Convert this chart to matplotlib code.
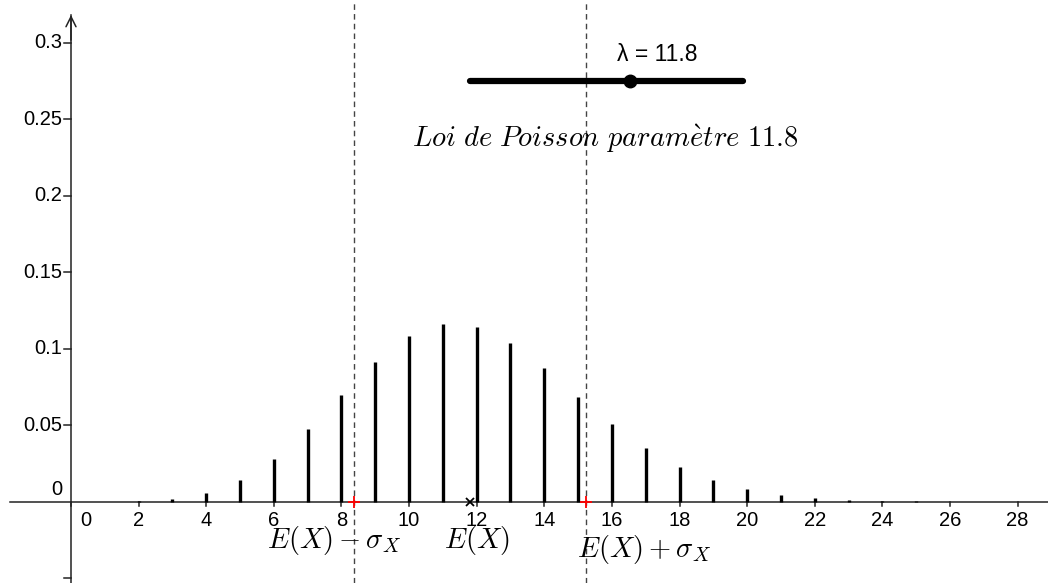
import matplotlib
matplotlib.use("Agg")
import matplotlib.pyplot as plt

plt.rcParams['font.family'] = ['Liberation Sans', 'DejaVu Sans']
plt.rcParams['mathtext.fontset'] = 'cm'

lam = 11.8
k = list(range(0, 29))
p = [0.0000075, 0.0000886, 0.000523, 0.002055, 0.006063, 0.01431, 0.02814,
     0.04743, 0.06996, 0.09173, 0.10824, 0.11611, 0.11418, 0.10364, 0.08735,
     0.06872, 0.05068, 0.03518, 0.02306, 0.01432, 0.00845, 0.00475, 0.00255,
     0.00131, 0.00064, 0.00030, 0.00014, 0.00006, 0.00002]
mean = 11.8
sigma = 3.435
x_ticks = [0, 2, 4, 6, 8, 10, 12, 14, 16, 18, 20, 22, 24, 26, 28]
y_ticks = [0.05, 0.1, 0.15, 0.2, 0.25, 0.3]
y_labels = ['0.05', '0.1', '0.15', '0.2', '0.25', '0.3']

fig = plt.figure(figsize=(10.48, 5.83), dpi=100)
ax = fig.add_axes([0, 0, 1, 1])
ax.set_xlim(-2.1, 28.9)
ax.set_ylim(-0.053, 0.328)
ax.axis('off')

# axes lines
ax.axhline(0, xmin=0.01, color='#222222', lw=1.1, zorder=2)
ax.axvline(0, ymax=(0.318 + 0.053) / 0.381, color='#222222', lw=1.1, zorder=2)
ax.annotate('', xy=(0, 0.320), xytext=(0, 0.30),
            arrowprops=dict(arrowstyle='->', color='#222222', lw=1.1,
                            mutation_scale=18))

# ticks and labels
for t in x_ticks:
    ax.plot([t, t], [0, -0.003], color='#222222', lw=1.1)
    dx = 0.45 if t == 0 else 0
    ax.text(t + dx, -0.012, str(t), ha='center', va='center', fontsize=14.5)
for t, lab in zip(y_ticks, y_labels):
    ax.plot([0, -0.2], [t, t], color='#222222', lw=1.1)
    ax.text(-0.27, t, lab, ha='right', va='center', fontsize=14.5)
ax.plot([0, -0.2], [-0.05, -0.05], color='#222222', lw=1.1)
ax.text(-0.25, 0.008, '0', ha='right', va='center', fontsize=14.5)

# bars
ax.vlines(k, 0, p, color='black', lw=2.4, zorder=3)

# mean +- sigma
for xv in [mean - sigma, mean + sigma]:
    ax.axvline(xv, color='#444444', lw=1.0, ls=(0, (4, 3)), zorder=1)
    ax.plot(xv, 0, marker='+', color='red', ms=8, mew=1.3, zorder=4)
ax.plot(mean, 0, marker='x', color='black', ms=6, mew=1.3, zorder=4)

ax.text(7.78, -0.025, r'$E(X)-\sigma_X$', ha='center',
        va='center', fontsize=20.5)
ax.text(12.0, -0.025, r'$E(X)$', ha='center', va='center', fontsize=20.5)
ax.text(16.95, -0.031, r'$E(X)+\sigma_X$', ha='center',
        va='center', fontsize=20.5)

# slider
ax.plot([11.8, 19.88], [0.2752, 0.2752], color='black', lw=4.5,
        solid_capstyle='round', zorder=3)
ax.plot(16.54, 0.2752, 'o', color='black', ms=9, zorder=4)
ax.text(17.35, 0.2925, 'λ = 11.8', ha='center', va='center', fontsize=16.5)

ax.text(15.8, 0.2375, r'$Loi\ de\ Poisson\ param\grave{e}tre\ 11.8$',
        ha='center', va='center', fontsize=20.5)

fig.savefig('out.png', dpi=100)
